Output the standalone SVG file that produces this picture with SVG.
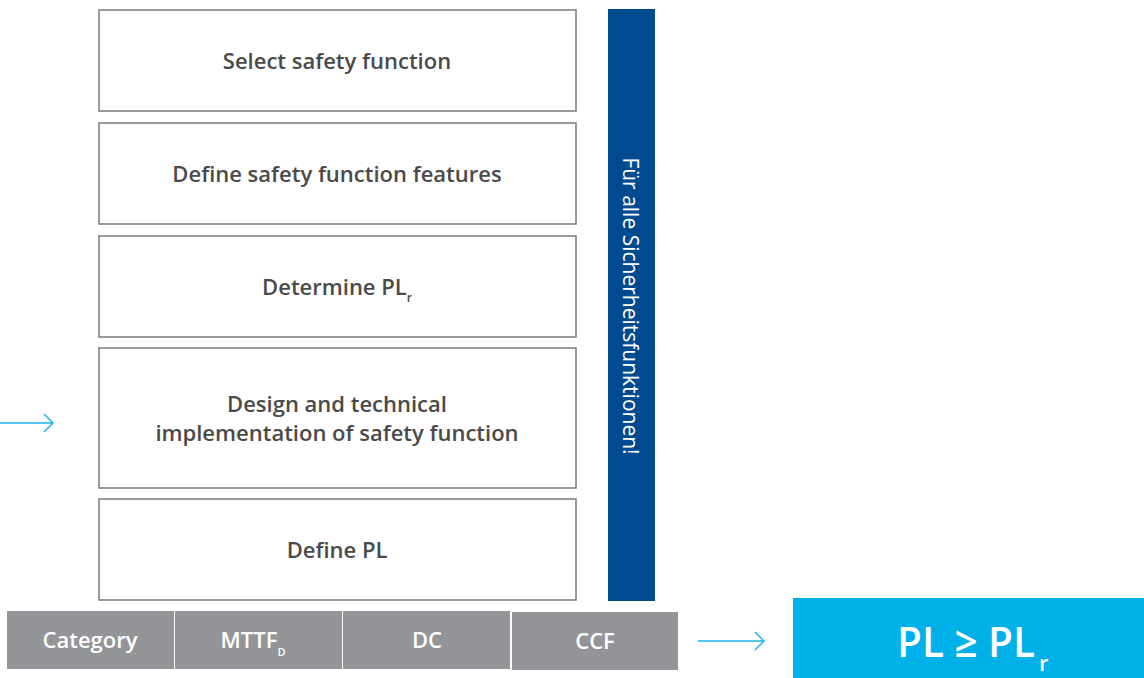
<svg xmlns="http://www.w3.org/2000/svg" width="1144" height="678" viewBox="0 0 1144 678">
<style>
.box{fill:#fff;stroke:#7a7a7a;stroke-width:1.5}
.t{font-family:"Open Sans","Liberation Sans",sans-serif;font-size:22px;font-weight:600;fill:#4a4a4a;text-anchor:middle}
.cell{fill:#939598}
.ct{font-family:"Open Sans","Liberation Sans",sans-serif;font-size:22px;font-weight:600;fill:#fff;text-anchor:middle}
.arr{stroke:#1fb4e8;stroke-width:1.5;fill:none}
.w{font-family:"Open Sans","Liberation Sans",sans-serif;fill:#fff}
</style>
<rect width="1144" height="678" fill="#fff"/>
<g id="n1"><rect class="box" x="99" y="10" width="477" height="101"/><text class="t" x="337" y="69">Select safety function</text></g>
<g id="n2"><rect class="box" x="99" y="123" width="477" height="101"/><text class="t" x="337" y="182">Define safety function features</text></g>
<g id="n3"><rect class="box" x="99" y="236" width="477" height="101"/><text class="t" x="337" y="295">Determine PL<tspan font-size="12" dy="7">r</tspan></text></g>
<g id="n4"><rect class="box" x="99" y="348" width="477" height="140"/><text class="t" x="337" y="412">Design and technical</text><text class="t" x="337" y="441">implementation of safety function</text></g>
<g id="n5"><rect class="box" x="99" y="499" width="477" height="101"/><text class="t" x="337" y="558">Define PL</text></g>
<g id="bar"><rect x="608" y="9" width="47" height="592" fill="#004a8f"/><text class="w" transform="translate(623,306) rotate(90)" font-size="21" text-anchor="middle">Für alle Sicherheitsfunktionen!</text></g>
<g id="cat"><rect class="cell" x="7" y="611" width="167" height="58"/><text class="ct" x="90" y="648">Category</text></g>
<g id="mttf"><rect class="cell" x="175" y="611" width="167" height="58"/><text class="ct" x="253" y="648">MTTF<tspan font-size="11" dy="8">D</tspan></text></g>
<g id="dc"><rect class="cell" x="343" y="611" width="167" height="58"/><text class="ct" x="427" y="648">DC</text></g>
<g id="ccf"><rect class="cell" x="512" y="612" width="166" height="58"/><text class="ct" x="595" y="649">CCF</text></g>
<g id="res"><rect x="793" y="598" width="351" height="80" fill="#00b0e8"/><text class="w" x="897" y="657" font-size="42" font-weight="600" textLength="138" lengthAdjust="spacingAndGlyphs">PL ≥ PL</text><text class="w" x="1039" y="671" font-size="22" font-weight="600">r</text></g>
<g id="connectors">
<path class="arr" d="M0 423H52M44 414L53 423L44 432"/>
<path class="arr" d="M698 641H763M755 632L764 641L755 650"/>
</g>
</svg>
